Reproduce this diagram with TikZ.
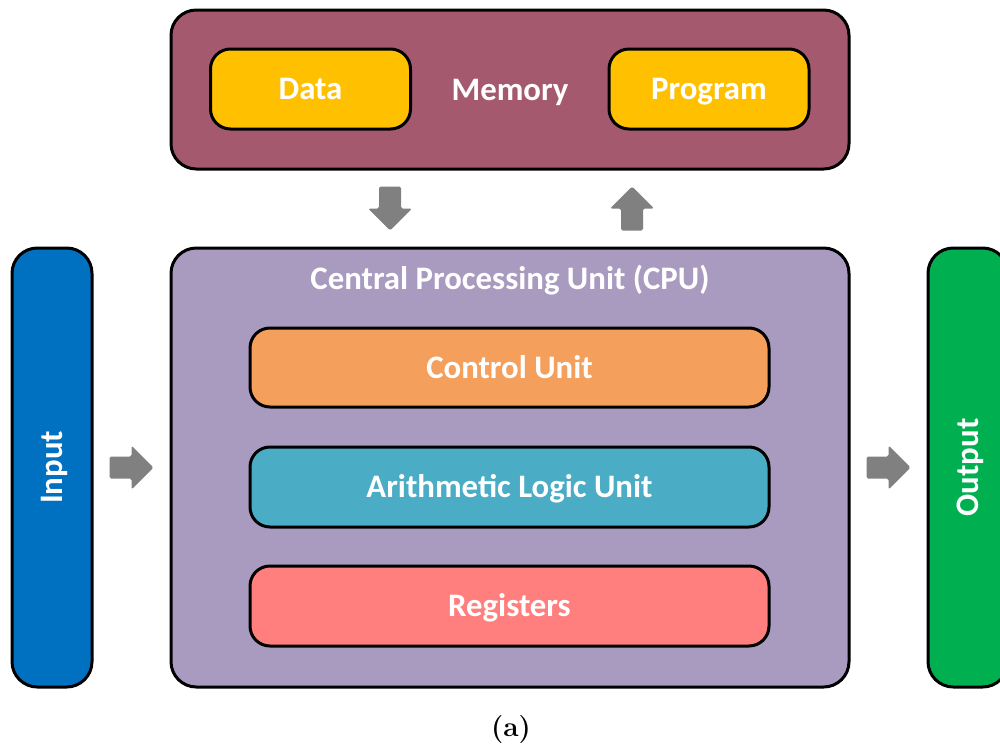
\documentclass[tikz,border=0pt]{standalone}
\usepackage{fontspec}
\newfontfamily\calfont{Carlito}
\usetikzlibrary{calc}

\definecolor{memcol}{RGB}{165,89,110}
\definecolor{yellowcol}{RGB}{255,192,0}
\definecolor{cpucol}{RGB}{169,155,192}
\definecolor{ctrlcol}{RGB}{244,160,92}
\definecolor{alucol}{RGB}{75,172,198}
\definecolor{regcol}{RGB}{255,127,127}
\definecolor{incol}{RGB}{0,112,192}
\definecolor{outcol}{RGB}{0,176,80}
\definecolor{arrowgray}{RGB}{128,128,128}

\tikzset{
  unit/.style={draw=black, line width=2.25pt, text=white,
    font=\calfont\bfseries\fontsize{24.6}{29}\selectfont, inner sep=0pt,
    text height=20.8pt, text depth=5pt},
  bigbox/.style={unit, rounded corners=19pt},
  smallbox/.style={unit, rounded corners=15pt},
  blockarrow/.pic={
    \fill[arrowgray, rounded corners=1.2pt]
      (-22,-11) -- (0,-11) -- (0,-22) -- (22,0) -- (0,22) -- (0,11) -- (-22,11) -- cycle;
  }
}

\begin{document}
\begin{tikzpicture}[x=0.75pt, y=-0.75pt]
\useasboundingbox (0,0) rectangle (1000,746);

% Memory with its two stores
\node[bigbox, fill=memcol, minimum width=678*0.75pt, minimum height=159*0.75pt]
  (memory) at (510,89.5) {Memory};
\node[smallbox, fill=yellowcol, minimum width=200*0.75pt, minimum height=80*0.75pt]
  (data) at (310.5,89) {Data};
\node[smallbox, fill=yellowcol, minimum width=200*0.75pt, minimum height=80*0.75pt]
  (program) at (709,89) {Program};

% Processor
\node[bigbox, fill=cpucol, minimum width=678*0.75pt, minimum height=439*0.75pt]
  (cpu) at (510,467.5) {};
\node[unit, draw=none] (cputitle) at (510,279) {Central Processing Unit (CPU)};
\node[smallbox, fill=ctrlcol, minimum width=519*0.75pt, minimum height=79*0.75pt]
  (control) at (509.5,367.5) {Control Unit};
\node[smallbox, fill=alucol, minimum width=519*0.75pt, minimum height=80*0.75pt]
  (alu) at (509.5,487) {Arithmetic Logic Unit};
\node[smallbox, fill=regcol, minimum width=519*0.75pt, minimum height=80*0.75pt]
  (registers) at (509.5,606) {Registers};

% Input and output devices
\node[bigbox, fill=incol, minimum width=80*0.75pt, minimum height=439*0.75pt]
  (input) at (52,467.5) {};
\node[unit, draw=none, rotate=90] (inlabel) at (input.center) {Input};
\node[bigbox, fill=outcol, minimum width=80*0.75pt, minimum height=439*0.75pt]
  (output) at (968,467.5) {};
\node[unit, draw=none, rotate=90] (outlabel) at (output.center) {Output};

% Data flow arrows
\coordinate (memgap) at ($(memory.south)!0.5!(cpu.north)$);
\pic[rotate=-90] (fetch) at ([xshift=-120*0.75pt]memgap) {blockarrow};
\pic[rotate=90] (store) at ([xshift=122*0.75pt]memgap) {blockarrow};
\pic (inarrow) at ($(input.east)!0.5!(cpu.west)$) {blockarrow};
\pic (outarrow) at ($(cpu.east)!0.5!(output.west)$) {blockarrow};

% Caption
\node[font=\bfseries\fontsize{21}{25}\selectfont, inner sep=0pt] (caption) at (511,730) {(a)};
\end{tikzpicture}
\end{document}
